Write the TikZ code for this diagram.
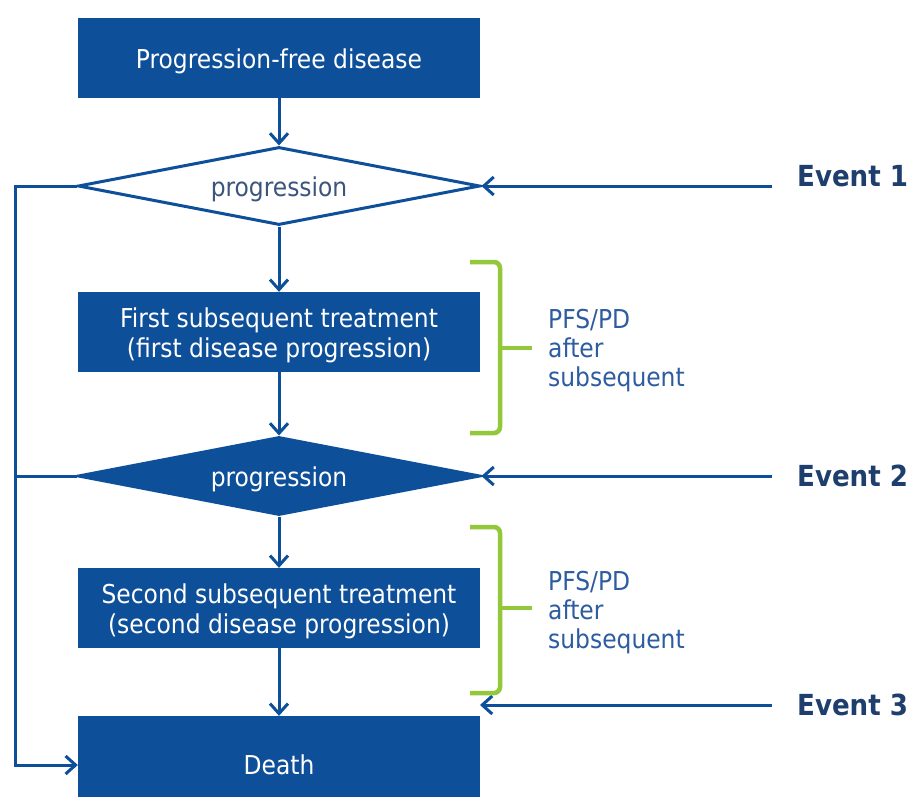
\documentclass[tikz,border=0pt]{standalone}
\usepackage{fontspec}
\setmainfont{DejaVu Sans Condensed}
\usetikzlibrary{shapes.geometric,arrows.meta}
\definecolor{boxblue}{RGB}{14,79,154}
\definecolor{evtxt}{RGB}{30,62,110}
\definecolor{pfstxt}{RGB}{45,92,160}
\definecolor{brgreen}{RGB}{146,200,58}
\definecolor{dtxt}{RGB}{60,85,125}
\newcommand\dnstrut{\rule{0pt}{27pt}}
\begin{document}
\begin{tikzpicture}[x=1pt,y=-1pt,
  box/.style={rectangle,fill=boxblue,text=white,minimum width=402pt,minimum height=80pt,inner sep=0pt,align=center,font=\fontsize{26}{30}\selectfont},
  dia/.style={diamond,draw=boxblue,line width=3pt,minimum width=402pt,minimum height=78pt,aspect=5.15,inner sep=0pt,font=\fontsize{26}{30}\selectfont},
  conn/.style={draw=boxblue,line width=3pt,-{Straight Barb[length=10pt,width=18pt,line width=3pt]}},
  evt/.style={text=evtxt,font=\fontsize{29}{33}\selectfont\bfseries,anchor=west,inner sep=0pt},
  pfs/.style={text=pfstxt,font=\fontsize{26}{29}\selectfont,align=left,anchor=west,inner sep=0pt},
  brc/.style={draw=brgreen,line width=4.5pt,rounded corners=6pt}]
\useasboundingbox[fill=white] (0,0) rectangle (913,796);

\node[box] (pfd) at (279,58) {\dnstrut Progression-free disease};
\node[dia,fill=white,text=dtxt] (d1) at (279,186) {\dnstrut progression};
\node[box] (t1) at (279,332) {\dnstrut First subsequent treatment\\(first disease progression)};
\node[dia,fill=boxblue,text=white] (d2) at (279,476) {\dnstrut progression};
\node[box] (t2) at (279,608) {\dnstrut Second subsequent treatment\\(second disease progression)};
\node[box,minimum height=90pt] (death) at (279,761) {\dnstrut Death};

\node[evt] (e1) at (797,176) {Event 1};
\node[evt] (e2) at (797,476) {Event 2};
\node[evt] (e3) at (797,705) {Event 3};

\node[pfs] (p1) at (548,351) {PFS/PD\\after\\subsequent};
\node[pfs] (p2) at (548,613) {PFS/PD\\after\\subsequent};

\coordinate (c3) at (480,705);
\coordinate (lt) at (15,186);
\coordinate (lb) at (15,765);
\coordinate (l2) at (15,476);

\draw[conn] (pfd) -- (d1);
\draw[conn] (d1) -- (t1);
\draw[conn] (t1) -- (d2);
\draw[conn] (d2) -- (t2);
\draw[conn] (t2) -- (death.north);

\draw[conn] (e1.west |- d1.east) ++(-25,0) -- (d1.east);
\draw[conn] (e2.west) ++(-25,0) -- (d2.east);
\draw[conn] (e3.west) ++(-25,0) -- (c3);

\draw[conn] (d1.west) -- (lt) -- (lb) -- (death.west |- lb);
\draw[draw=boxblue,line width=3pt] (d2.west) -- (l2);

\coordinate (b1) at (500,348);
\coordinate (b2) at (500,608);
\draw[brc] (470,262) -| (b1) |- (470,433);
\draw[brgreen,line width=4.5pt] (b1) -- (532,348);
\draw[brc] (470,527) -| (b2) |- (470,693);
\draw[brgreen,line width=4.5pt] (b2) -- (532,608);
\end{tikzpicture}
\end{document}
